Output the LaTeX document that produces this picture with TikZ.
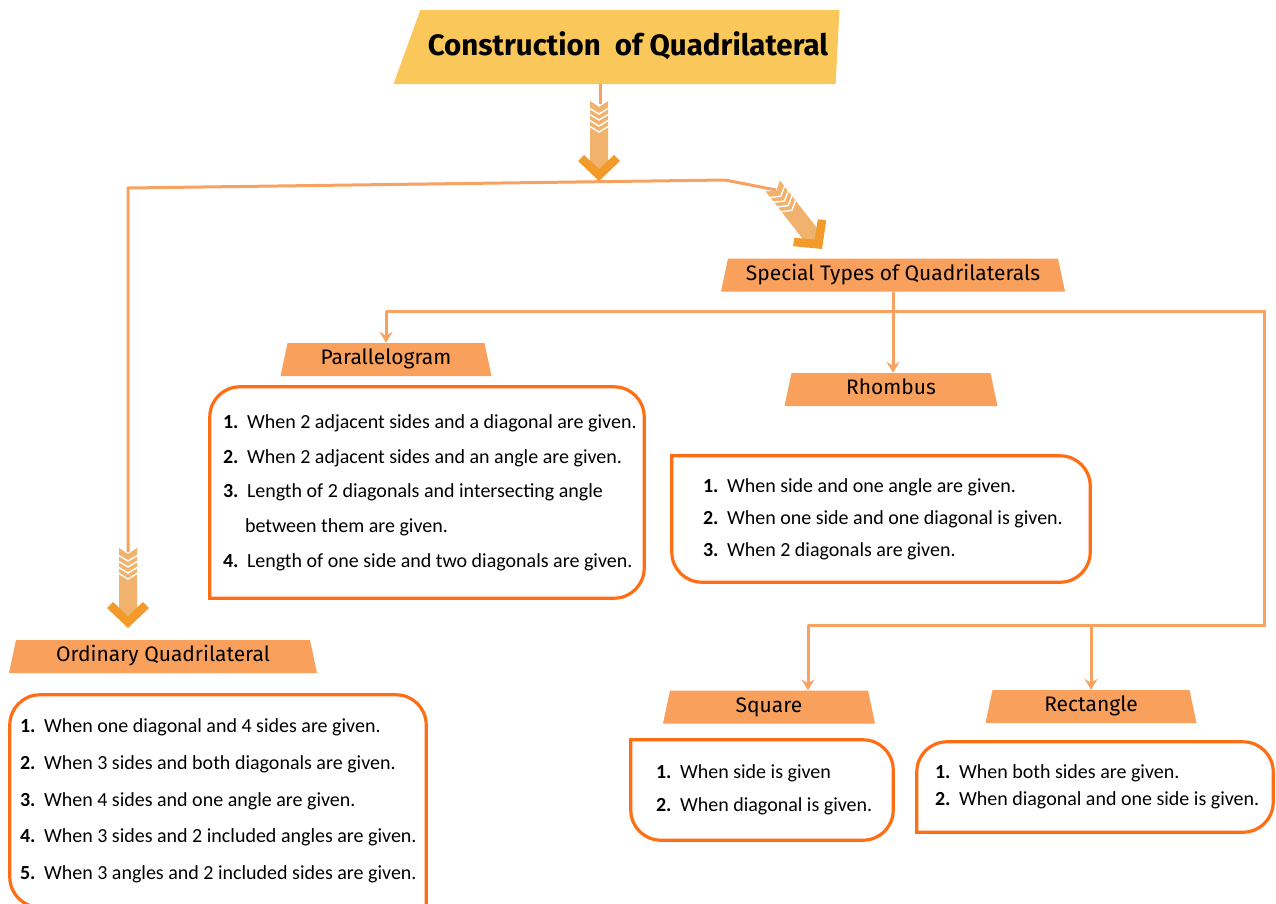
\documentclass[tikz,border=0pt]{standalone}
\usepackage{fontspec}
\setmainfont{Carlito}
\newfontfamily\labelfont{Fira Sans}
\newfontfamily\titlefont{Fira Sans}
\usetikzlibrary{shapes.geometric,arrows.meta,positioning}

\definecolor{titlecol}{HTML}{FAC75B}
\definecolor{tagcol}{HTML}{F9A05C}
\definecolor{linecol}{HTML}{F8A262}
\definecolor{rimcol}{HTML}{FF6D14}
\definecolor{shaftcol}{HTML}{F0B26C}
\definecolor{headcol}{HTML}{F39B2A}

\newcommand{\itm}[1]{\makebox[24pt][l]{\bfseries #1.}}

\tikzset{
  chevron/.pic={
    \fill[shaftcol] (-9,-80) -- (0,-74) -- (9,-80) -- (9,-12) -- (0,-5) -- (-9,-12) -- cycle;
    \foreach \k in {0,...,3}
      \draw[white, line width=1.4pt] (-10,-73+6*\k) -- (0,-67+6*\k) -- (10,-73+6*\k);
    \fill[headcol] (0,0) -- (-21,-20) -- (-15,-26) -- (0,-12) -- (15,-26) -- (21,-20) -- cycle;
  }
}

\begin{document}
\begin{tikzpicture}[x=1pt, y=-1pt,
    wire/.style={draw=linecol, line width=3pt},
    wirearrow/.style={wire, -{Stealth[length=11pt,width=13pt,inset=4pt]}},
    tagshape/.style={trapezium, trapezium left angle=78, trapezium right angle=78,
      trapezium stretches body=true, fill=tagcol, text height=15pt, text depth=4.5pt,
      inner ysep=6.75pt, inner xsep=0pt,
      font=\labelfont\fontsize{21}{21}\selectfont},
    area/.style={rectangle, inner sep=0pt},
    rim/.style={draw=rimcol, line width=3.2pt, rounded corners=30pt, line cap=rect},
    listtext/.style={align=left, inner sep=0pt, font=\fontsize{20}{#1}\selectfont}]
    \useasboundingbox (0,0) rectangle (1276,903);
    \fill[white] (0,0) rectangle (1276,903);
    \clip (0,0) rectangle (1276,903);

    % headings
    \node[trapezium, trapezium left angle=70, trapezium right angle=93, trapezium stretches body=true,
      fill=titlecol, minimum width=446pt, text height=22pt, text depth=6pt, inner ysep=23pt, inner xsep=0pt,
      font=\titlefont\bfseries\fontsize{29.5}{30}\selectfont] (title) at (628,47) {Construction~ of Quadrilateral};
    \node[tagshape, minimum width=344pt] (special) at (893,275) {Special Types of Quadrilaterals};
    \node[tagshape, minimum width=211pt] (parallelogram) at (386,359.5) {Parallelogram};
    \node[tagshape, minimum width=213pt] (rhombus) at (891,389.5) {Rhombus};
    \node[tagshape, minimum width=308pt] (ordinary) at (163,656.5) {Ordinary Quadrilateral};
    \node[tagshape, minimum width=212pt] (square) at (769,707) {Square};
    \node[tagshape, minimum width=211pt] (rectangle) at (1091,706.5) {Rectangle};

    % boxes
    \node[area, minimum width=416pt, minimum height=212pt] (ordbox) at (218,801) {};
    \node[area, minimum width=434pt, minimum height=211pt] (parbox) at (427,492.5) {};
    \node[area, minimum width=418pt, minimum height=126pt] (rhobox) at (881,519) {};
    \node[area, minimum width=262pt, minimum height=100pt] (sqbox) at (762,790) {};
    \node[area, minimum width=356pt, minimum height=90pt] (recbox) at (1095,787) {};

    \draw[rim] (ordbox.south east) -- (ordbox.south west) -- (ordbox.north west) -- (ordbox.north east) -- (ordbox.south east);
    \draw[rim] (parbox.south west) -- (parbox.north west) -- (parbox.north east) -- (parbox.south east) -- (parbox.south west);
    \draw[rim] (rhobox.north west) -- (rhobox.north east) -- (rhobox.south east) -- (rhobox.south west) -- (rhobox.north west);
    \draw[rim] (sqbox.north west) -- (sqbox.north east) -- (sqbox.south east) -- (sqbox.south west) -- (sqbox.north west);
    \draw[rim] (recbox.south west) -- (recbox.north west) -- (recbox.north east) -- (recbox.south east) -- (recbox.south west);

    \node[listtext=36.7, right=10pt of ordbox.west] (ordtext) {%
      \itm{1}When one diagonal and 4 sides are given.\\
      \itm{2}When 3 sides and both diagonals are given.\\
      \itm{3}When 4 sides and one angle are given.\\
      \itm{4}When 3 sides and 2 included angles are given.\\
      \itm{5}When 3 angles and 2 included sides are given.};
    \node[listtext=34.7, right=13pt of parbox.west] (partext) {%
      \itm{1}When 2 adjacent sides and a diagonal are given.\\
      \itm{2}When 2 adjacent sides and an angle are given.\\
      \itm{3}Length of 2 diagonals and intersecting angle\\
      \hspace*{22pt}between them are given.\\
      \itm{4}Length of one side and two diagonals are given.};
    \node[listtext=32, right=31pt of rhobox.west] (rhotext) {%
      \itm{1}When side and one angle are given.\\
      \itm{2}When one side and one diagonal is given.\\
      \itm{3}When 2 diagonals are given.};
    \node[listtext=33, right=25pt of sqbox.west] (sqtext) {%
      \itm{1}When side is given\\
      \itm{2}When diagonal is given.};
    \node[listtext=27, right=18pt of recbox.west] (rectext) {%
      \itm{1}When both sides are given.\\
      \itm{2}When diagonal and one side is given.};

    % connectors
    \coordinate (fork) at (725,180);
    \coordinate (corner) at (128,188);
    \coordinate (jM) at (special.south |- 0,311);
    \coordinate (jR) at (1264,311);
    \coordinate (jD) at (1264,625);
    \coordinate (jS) at (808,625);

    \draw[wire] ([xshift=-28pt]title.south) -- ++(0,20);
    \pic at (599,181) {chevron};
    \draw[wire] (fork) -- (corner) -- (128,552);
    \pic at (128,628) {chevron};
    \draw[wire] (fork) -- (776,190);
    \pic[rotate=38] at (822,249) {chevron};

    \draw[wire] (parallelogram.north |- jM) -- (jR) -- (jD) -- (jS);
    \draw[wirearrow] (parallelogram.north |- jM) -- (parallelogram.north);
    \draw[wirearrow] (special.south) -- (special.south |- rhombus.north);
    \draw[wirearrow] (jS) -- (jS |- square.north);
    \draw[wirearrow] (rectangle.north |- jD) -- (rectangle.north);
\end{tikzpicture}
\end{document}
